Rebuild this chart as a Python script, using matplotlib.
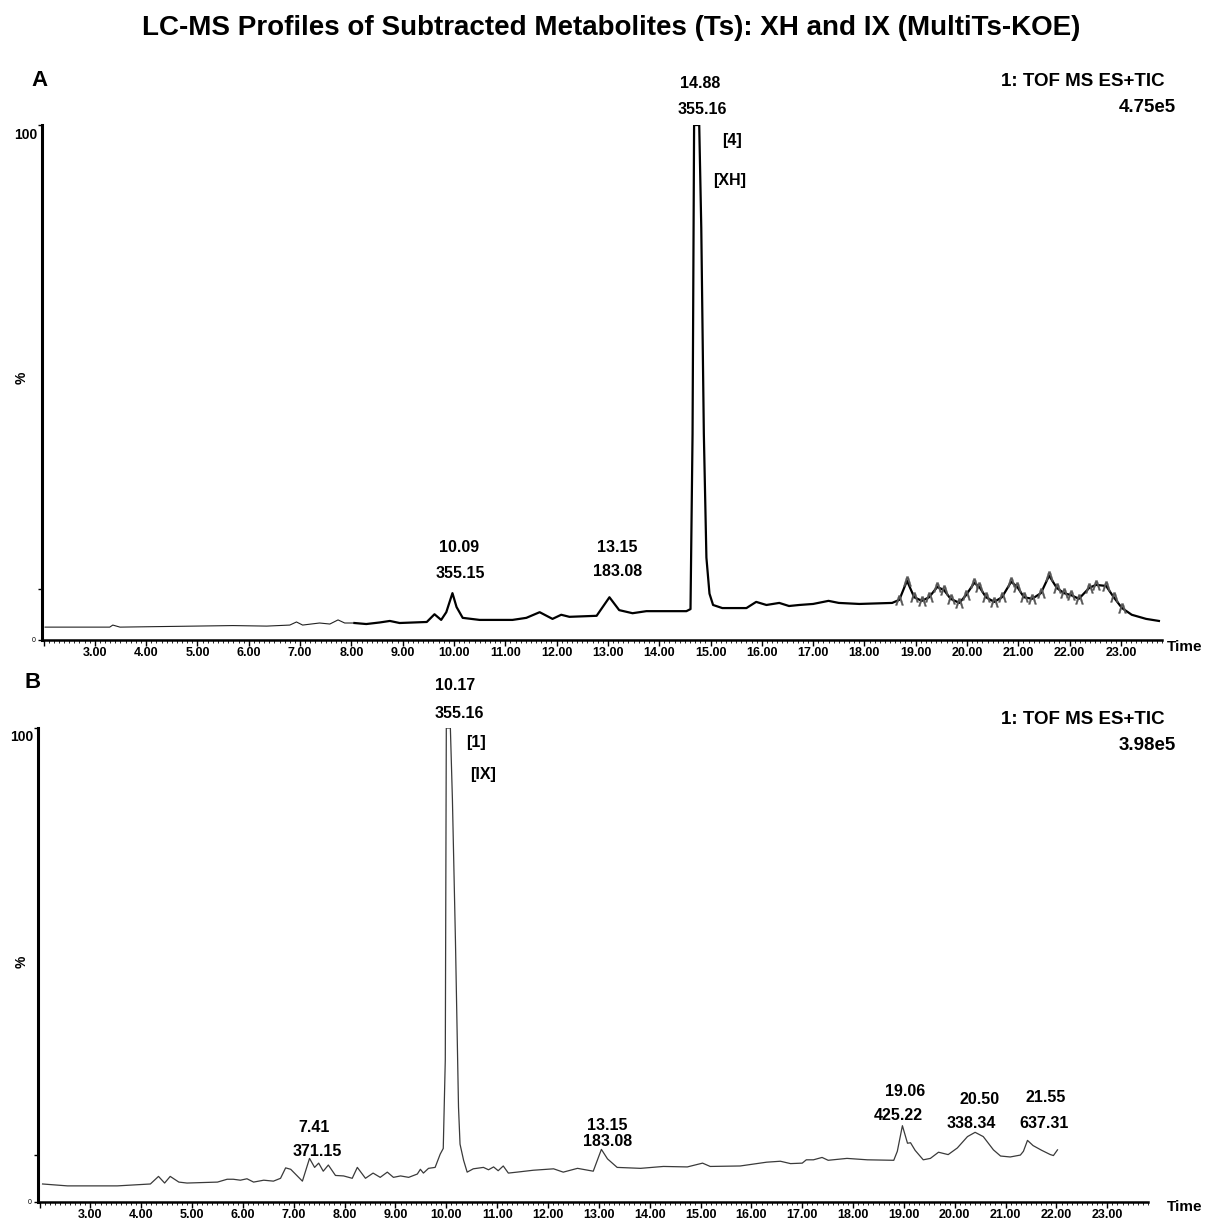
"""
plot.py
LC-MS profiles (TIC) of subtracted metabolites XH and IX, panels A and B.
"""
import numpy as np
import matplotlib
matplotlib.use("Agg")
import matplotlib.pyplot as plt
from matplotlib.ticker import MultipleLocator, FuncFormatter

plt.rcParams['font.family'] = ['Liberation Sans', 'DejaVu Sans']

# Panel A: XH (retention time in min, relative intensity in %)
tiempo_a = [2.03, 3.29, 3.35, 3.49, 5.69, 6.35, 6.80, 6.93, 7.05, 7.38, 7.58, 7.74, 7.87,
            8.06, 8.29, 8.55, 8.75, 8.94, 9.47, 9.62, 9.75, 9.85, 9.97, 10.05, 10.17,
            10.50, 11.14, 11.41, 11.67, 11.92, 12.09, 12.25, 12.78, 13.03, 13.22, 13.48,
            13.75, 14.14, 14.53, 14.61, 14.65, 14.68, 14.78, 14.82, 14.87, 14.92, 14.98,
            15.05, 15.23, 15.70, 15.89, 16.09, 16.34, 16.53, 16.73, 17.00, 17.30, 17.50,
            17.90, 18.54, 18.68, 18.83, 18.97, 19.12, 19.26, 19.42, 19.55, 19.68, 19.85,
            19.98, 20.14, 20.24, 20.37, 20.53, 20.68, 20.86, 20.98, 21.11, 21.27, 21.44,
            21.60, 21.75, 21.89, 22.03, 22.18, 22.38, 22.51, 22.71, 22.86, 23.02, 23.21,
            23.49, 23.74]
inten_a = [2.5, 2.5, 2.9, 2.5, 2.8, 2.7, 2.9, 3.5, 2.9, 3.3, 3.1, 3.9, 3.3,
           3.3, 3.1, 3.4, 3.7, 3.3, 3.5, 5.0, 3.9, 5.4, 9.1, 6.4, 4.3,
           3.9, 3.9, 4.3, 5.4, 4.1, 4.9, 4.5, 4.7, 8.3, 5.8, 5.2,
           5.6, 5.6, 5.6, 6.0, 40.0, 100.0, 100.0, 80.0, 40.0, 16.0, 9.0,
           6.8, 6.2, 6.2, 7.4, 6.8, 7.2, 6.6, 6.8, 7.0, 7.6, 7.2,
           7.0, 7.2, 7.8, 11.5, 8.3, 7.6, 8.3, 10.3, 9.7, 8.0, 7.2,
           8.7, 11.1, 10.3, 8.3, 7.4, 8.3, 11.3, 10.3, 8.3, 8.0, 9.1,
           12.5, 10.1, 9.1, 8.7, 8.0, 10.1, 10.7, 10.5, 8.3, 6.2, 4.9,
           4.1, 3.7]

# Panel B: IX
tiempo_b = [2.06, 2.55, 3.53, 4.18, 4.34, 4.46, 4.57, 4.74, 4.90, 5.50, 5.69, 5.81, 5.95,
            6.08, 6.21, 6.41, 6.60, 6.74, 6.84, 6.94, 7.17, 7.31, 7.41, 7.49, 7.58, 7.68,
            7.82, 7.98, 8.15, 8.25, 8.41, 8.56, 8.70, 8.84, 8.96, 9.10, 9.26, 9.43, 9.49,
            9.55, 9.65, 9.78, 9.88, 9.94, 9.98, 10.00, 10.08, 10.12, 10.18, 10.24, 10.27,
            10.34, 10.41, 10.53, 10.73, 10.83, 10.93, 11.02, 11.12, 11.22, 11.39, 11.71,
            12.11, 12.30, 12.58, 12.89, 13.05, 13.17, 13.36, 13.82, 14.27, 14.74, 15.04,
            15.19, 15.78, 16.30, 16.57, 16.77, 17.00, 17.08, 17.22, 17.39, 17.51, 17.88,
            18.28, 18.80, 18.87, 18.97, 19.07, 19.13, 19.22, 19.38, 19.52, 19.68, 19.87,
            20.05, 20.25, 20.40, 20.56, 20.76, 20.90, 21.09, 21.29, 21.35, 21.43, 21.54,
            21.71, 21.88, 21.94, 22.02]
inten_b = [3.8, 3.4, 3.4, 3.8, 5.4, 4.0, 5.4, 4.2, 4.0, 4.2, 4.8, 4.8, 4.6,
           4.9, 4.2, 4.6, 4.4, 5.0, 7.2, 6.9, 4.4, 9.2, 7.3, 8.2, 6.5, 7.8,
           5.6, 5.5, 5.0, 7.3, 5.0, 6.1, 5.2, 6.3, 5.2, 5.5, 5.2, 5.9, 6.9,
           6.1, 7.1, 7.3, 10.1, 11.3, 30.0, 100.0, 100.0, 85.0, 55.0, 20.0, 12.2,
           8.8, 6.3, 7.0, 7.3, 6.8, 7.4, 6.6, 7.6, 6.1, 6.3, 6.7,
           7.0, 6.3, 7.1, 6.5, 11.1, 9.1, 7.3, 7.1, 7.5, 7.4, 8.2,
           7.5, 7.6, 8.4, 8.6, 8.1, 8.2, 8.9, 8.9, 9.4, 8.8, 9.2,
           8.9, 8.8, 10.7, 16.1, 12.4, 12.5, 10.9, 8.9, 9.2, 10.5, 10.0,
           11.4, 13.8, 14.7, 13.8, 11.0, 9.7, 9.5, 9.9, 10.7, 13.0, 11.9,
           10.9, 10.0, 9.8, 11.0]

# Etiquetas de picos: (texto, x px, y px)
etiquetas = [
    ("14.88", 700, 83), ("355.16", 702, 109), ("[4]", 732, 141), ("[XH]", 730, 181),
    ("10.09", 459, 547), ("355.15", 460, 574), ("13.15", 617, 547), ("183.08", 618, 571),
    ("10.17", 455, 685), ("355.16", 459, 713), ("[1]", 476, 742), ("[IX]", 483, 775),
    ("7.41", 314, 1128), ("371.15", 317, 1151), ("13.15", 607, 1125), ("183.08", 608, 1142),
    ("19.06", 905, 1091), ("425.22", 898, 1116), ("20.50", 980, 1099), ("338.34", 971, 1123),
    ("21.55", 1046, 1097), ("637.31", 1044, 1123),
]

W, H = 1215, 1222
fig = plt.figure(figsize=(W / 100, H / 100), dpi=100)


def px(x, y):
    return x / W, 1 - y / H


def preparar_eje(ax):
    ax.set_xlim(1.97, 23.8)
    ax.set_ylim(0, 100)
    for s in ("top", "right"):
        ax.spines[s].set_visible(False)
    ax.spines["left"].set_linewidth(2.2)
    ax.spines["bottom"].set_linewidth(1.8)
    ax.xaxis.set_major_locator(MultipleLocator(1))
    ax.xaxis.set_minor_locator(MultipleLocator(0.1))
    ax.xaxis.set_major_formatter(FuncFormatter(lambda v, p: f"{v:.2f}" if v >= 3 else ""))
    ax.tick_params(axis="x", which="major", length=4, width=1, labelsize=9, pad=1)
    ax.tick_params(axis="x", which="minor", length=2, width=0.6)
    for lab in ax.get_xticklabels():
        lab.set_fontweight("bold")
    ax.set_yticks([0, 10, 100])
    ax.set_yticklabels(["", "", ""])
    ax.tick_params(axis="y", length=3, width=1)
    ax.text(-0.004, 0.995, "100", transform=ax.transAxes, ha="right", va="top",
            fontsize=10, fontweight="bold")
    ax.text(-0.006, 0.0, "0", transform=ax.transAxes, ha="right", va="center", fontsize=5)


# Panel A
ax_a = fig.add_axes([42 / W, 1 - 640 / H, (1162 - 42) / W, (640 - 125) / H])
preparar_eje(ax_a)
t_a = np.array(tiempo_a)
i_a = np.array(inten_a)
fino = t_a <= 8.06
ax_a.plot(t_a[fino], i_a[fino], color="#222222", lw=0.8)
ax_a.plot(t_a[t_a >= 8.06], i_a[t_a >= 8.06], color="black", lw=1.6)
zz = (t_a >= 18.6) & (t_a <= 23.1)
ax_a.plot(t_a[zz], i_a[zz], ls="none", marker=r"$\wedge$", ms=7, color="#555555",
          markeredgewidth=0.3)

# Panel B
ax_b = fig.add_axes([38 / W, 1 - 1202 / H, (1148 - 38) / W, (1202 - 728) / H])
preparar_eje(ax_b)
ax_b.plot(tiempo_b, inten_b, color="#3a3a3a", lw=0.9)

# Textos
fig.text(*px(611, 28), "LC-MS Profiles of Subtracted Metabolites (Ts): XH and IX (MultiTs-KOE)",
         ha="center", va="center", fontsize=20, fontweight="bold")
fig.text(*px(40, 80), "A", ha="center", va="center", fontsize=16, fontweight="bold")
fig.text(*px(33, 683), "B", ha="center", va="center", fontsize=16, fontweight="bold")
for y_tof, y_val, val in [(82, 107, "4.75e5"), (720, 745, "3.98e5")]:
    fig.text(*px(1083, y_tof), "1: TOF MS ES+TIC", ha="center", va="center",
             fontsize=13.5, fontweight="bold")
    fig.text(*px(1147, y_val), val, ha="center", va="center", fontsize=13.5, fontweight="bold")
for y_pct in (378, 962):
    fig.text(*px(22, y_pct), "%", ha="center", va="center", rotation=90,
             fontsize=10, fontweight="bold")
for y_time in (647, 1207):
    fig.text(*px(1185, y_time), "Time", ha="center", va="center", fontsize=11,
             fontweight="bold")
for txt, x, y in etiquetas:
    fig.text(*px(x, y), txt, ha="center", va="center", fontsize=11.5, fontweight="bold")

fig.savefig("out.png", dpi=100)
